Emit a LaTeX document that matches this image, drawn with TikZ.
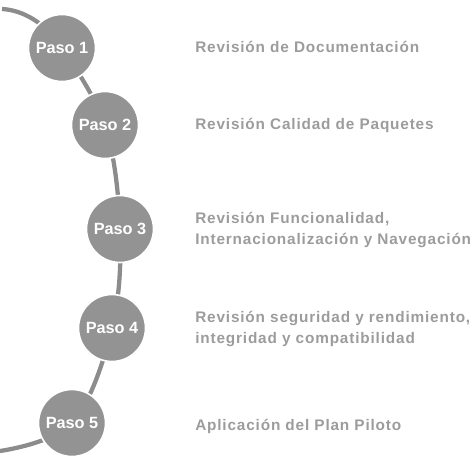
\documentclass[tikz,border=0pt]{standalone}
\usepackage{fontspec}
\setmainfont{Liberation Sans}
\begin{document}
\begin{tikzpicture}[x=0.75pt,y=-0.75pt]
\definecolor{circfill}{HTML}{939393}
\definecolor{linecol}{HTML}{8C8C8C}
\definecolor{labcol}{HTML}{9C9C9C}
\tikzset{
  stepcirc/.style={circle,fill=circfill,draw=white,line width=1.2pt,minimum size=67*0.75pt,inner sep=0pt,text=white,font=\fontsize{12.2}{14}\selectfont\bfseries},
  steplabel/.style={anchor=west,text=labcol,align=left,inner sep=0pt,font=\fontsize{11.5}{15.5}\selectfont\bfseries\addfontfeature{LetterSpace=5.5}},
  pathline/.style={linecol,line width=3.2pt}
}
\useasboundingbox (0,0) rectangle (475,458);
\coordinate (s) at (2,9);
\coordinate (e) at (0,451);
\coordinate (c1) at (62,48);
\coordinate (c2) at (105,125);
\coordinate (c3) at (120,229);
\coordinate (c4) at (112,328);
\coordinate (c5) at (72,423);
\draw[pathline] (s) .. controls (22,10) and (45,22) .. (c1);
\draw[pathline] plot[smooth,tension=0.6] coordinates {(c1) (c2) (c3) (c4) (c5) (e)};
\node[stepcirc] (p1) at (c1) {Paso 1};
\node[stepcirc] (p2) at (c2) {Paso 2};
\node[stepcirc] (p3) at (c3) {Paso 3};
\node[stepcirc] (p4) at (c4) {Paso 4};
\node[stepcirc] (p5) at (c5) {Paso 5};
\node[steplabel] (l1) at (195,47) {Revisión de Documentación};
\node[steplabel] (l2) at (195,125) {Revisión Calidad de Paquetes};
\node[steplabel] (l3) at (195,230) {Revisión Funcionalidad,\\Internacionalización y Navegación};
\node[steplabel] (l4) at (195,329) {Revisión seguridad y rendimiento,\\integridad y compatibilidad};
\node[steplabel] (l5) at (195,426) {Aplicación del Plan Piloto};
\end{tikzpicture}
\end{document}
